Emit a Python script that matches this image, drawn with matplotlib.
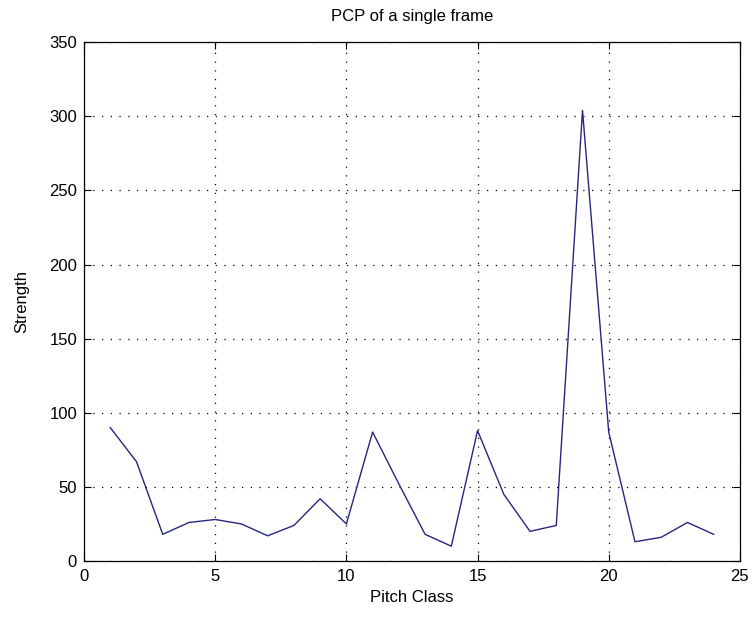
import matplotlib
matplotlib.use("Agg")
import matplotlib.pyplot as plt

# ── data ─────────────────────────────────────────────────────────
pitch_class = list(range(1, 25))
strength = [90, 67, 18, 26, 28, 25, 17, 24, 42, 25, 87, 52,
            18, 10, 88, 45, 20, 24, 304, 87, 13, 16, 26, 18]

x_ticks = [0, 5, 10, 15, 20, 25]
y_ticks = [0, 50, 100, 150, 200, 250, 300, 350]

# ── plot ─────────────────────────────────────────────────────────
plt.rcParams["font.family"] = ["Liberation Sans", "DejaVu Sans"]

fig = plt.figure(figsize=(7.53, 6.19), dpi=100)
ax = fig.add_axes([0.1116, 0.0937, 0.871, 0.838])

ax.plot(pitch_class, strength, color="#26267f", linewidth=1.0)

ax.set_xlim(0, 25)
ax.set_ylim(0, 350)
ax.set_xticks(x_ticks)
ax.set_yticks(y_ticks)
ax.grid(True, linestyle=(0, (1, 6)), color="black", linewidth=0.9)
ax.tick_params(direction="in", top=True, right=True, labelsize=12, length=5)
ax.tick_params(axis="x", pad=6)
ax.tick_params(axis="y", pad=5)
for s in ax.spines.values():
    s.set_linewidth(0.9)

ax.set_xlabel("Pitch Class", fontsize=12, labelpad=4)
ax.set_ylabel("Strength", fontsize=12, labelpad=14)
ax.set_title("PCP of a single frame", fontsize=12, pad=15)

fig.savefig("out.png", dpi=100)
